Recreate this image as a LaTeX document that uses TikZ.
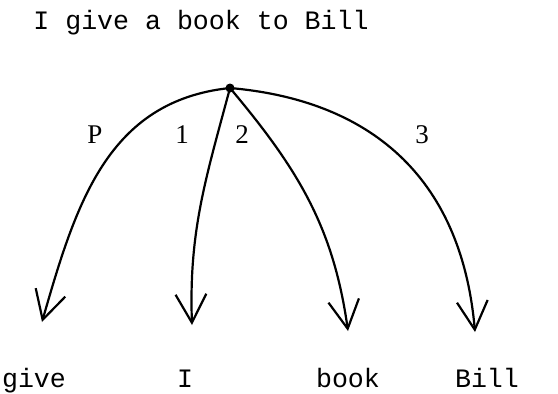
\documentclass[tikz,border=0pt]{standalone}
\usepackage{fontspec}
\setmainfont{Liberation Serif}
\setmonofont{Liberation Mono}
\usetikzlibrary{arrows.meta,positioning}

\begin{document}
\begin{tikzpicture}[x=0.5pt,y=0.5pt,
word/.style={font=\fontsize{13.3}{15}\ttfamily,anchor=base,inner sep=0pt},
tag/.style={font=\fontsize{13.5}{15}\selectfont,anchor=base,inner sep=0pt},
arr/.style={-{Straight Barb[length=5mm,width=5.4mm]},line width=1.1pt}]
\useasboundingbox (0,0) rectangle (558,393);
\node[word,anchor=base west](sentence) at (33,364){I give a book to Bill};
\coordinate (hub) at (230,305);
\coordinate (tgive) at (42,71);
\coordinate (tI) at (192,68);
\coordinate (tbook) at (348,62);
\coordinate (tBill) at (475,61);
\node[word](give) at (34,6){give};
\node[word](I) at (185,6){I};
\node[word](book) at (348,6){book};
\node[word](Bill) at (487,6){Bill};
\node[tag](P) at (95,250){P};
\node[tag](one) at (182,250){1};
\node[tag](two) at (242,250){2};
\node[tag](three) at (422,250){3};
\draw[arr](hub)to[out=186,in=74,looseness=1.05](tgive);
\draw[arr](hub)to[out=-105,in=92](tI);
\draw[arr](hub)to[out=-50,in=98](tbook);
\draw[arr](hub)to[out=-5,in=95,looseness=1.1](tBill);
\fill (hub) circle (4.5);
\end{tikzpicture}
\end{document}
